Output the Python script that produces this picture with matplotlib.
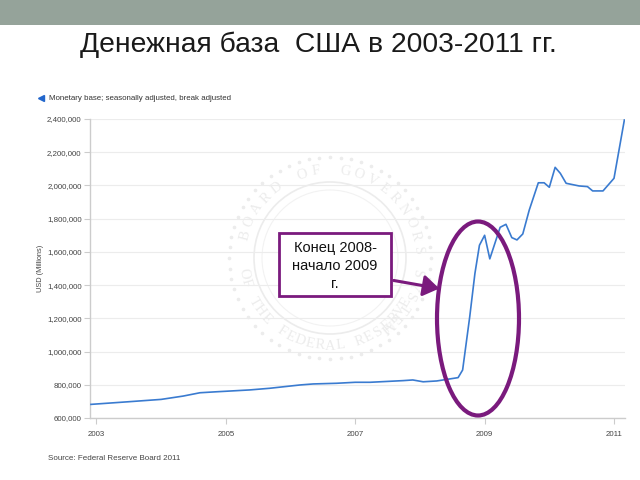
import numpy as np
import matplotlib
matplotlib.use("Agg")
import matplotlib.pyplot as plt
from matplotlib.patches import Ellipse, Rectangle, FancyArrowPatch, Circle
from matplotlib.ticker import FuncFormatter

plt.rcParams['font.family'] = ['Liberation Sans', 'DejaVu Sans']

# ---- data ----
years = [2002.915, 2003.5, 2004.0, 2004.34, 2004.6, 2004.86, 2005.0, 2005.37,
         2005.68, 2005.89, 2006.15, 2006.35, 2006.71, 2007.0, 2007.23, 2007.74,
         2007.89, 2008.05, 2008.26, 2008.59, 2008.66, 2008.77, 2008.85, 2008.92,
         2009.0, 2009.08, 2009.24, 2009.33, 2009.42, 2009.50, 2009.59, 2009.69,
         2009.83, 2009.92, 2010.0, 2010.09, 2010.17, 2010.26, 2010.46, 2010.59,
         2010.67, 2010.83, 2011.0, 2011.16]
base = [682000, 698000, 712000, 732000, 752000, 758000, 761000, 769000,
        779000, 788000, 799000, 805000, 809000, 815000, 815000, 825000,
        829000, 818000, 823000, 843000, 889000, 1210000, 1470000, 1640000,
        1700000, 1558000, 1748000, 1766000, 1686000, 1672000, 1708000, 1852000,
        2016000, 2016000, 1989000, 2109000, 2073000, 2013000, 1997000, 1993000,
        1967000, 1967000, 2043000, 2394000]
x_ticks = [2003, 2005, 2007, 2009, 2011]
y_ticks = [600000, 800000, 1000000, 1200000, 1400000, 1600000, 1800000,
           2000000, 2200000, 2400000]

title = "Денежная база  США в 2003-2011 гг."
legend_label = "Monetary base; seasonally adjusted, break adjusted"
y_label = "USD (Millions)"
source = "Source: Federal Reserve Board 2011"
note = "Конец 2008-\nначало 2009\nг."

W, H = 640, 480
fig = plt.figure(figsize=(6.4, 4.8), dpi=100)
fig.patch.set_facecolor('white')

# ---- background layer (pixel coords) ----
bg = fig.add_axes([0, 0, 1, 1])
bg.set_xlim(0, W); bg.set_ylim(H, 0); bg.axis('off')
bg.add_patch(Rectangle((0, 0), W, 25, color='#95a39a', lw=0))
bg.text(318, 45, title, ha='center', va='center', fontsize=20.3, color='#1a1a1a')

# watermark seal
cx, cy = 330, 258
seal_c = '#ececec'
bg.add_patch(Circle((cx, cy), 76, fill=False, ec=seal_c, lw=1.2))
bg.add_patch(Circle((cx, cy), 68, fill=False, ec='#f2f2f2', lw=0.8))
for a in np.linspace(0, 2 * np.pi, 60, endpoint=False):
    bg.plot(cx + 101 * np.cos(a), cy - 101 * np.sin(a), 'o', ms=1.6, color=seal_c)
def arc_text(txt, r, a0, a1, top=True):
    angs = np.linspace(a0, a1, len(txt))
    for ch, a in zip(txt, angs):
        t = np.deg2rad(a)
        rot = a - 90 if top else a + 90
        bg.text(cx + r * np.cos(t), cy - r * np.sin(t), ch, rotation=rot,
                ha='center', va='center', fontsize=10.5, color=seal_c,
                family='Liberation Serif')
arc_text("BOARD OF GOVERNORS", 88, 165, 5, top=True)
arc_text("OF THE FEDERAL RESERVE", 88, 190, 330, top=False)
arc_text("SYSTEM", 88, -10, -50, top=True)

# ---- chart ----
ax = fig.add_axes([90 / W, 1 - 418 / H, (625 - 90) / W, (418 - 119) / H])
ax.set_facecolor('none')
ax.plot(years, base, color='#3a7bd0', lw=1.2, zorder=3)
ax.set_xlim(2002.9, 2011.17)
ax.set_ylim(600000, 2400000)
ax.set_yticks(y_ticks)
ax.set_xticks(x_ticks)
ax.yaxis.set_major_formatter(FuncFormatter(lambda v, p: f"{int(v):,}"))
ax.grid(axis='y', color='#ececec', lw=0.8)
ax.set_axisbelow(True)
for s in ['top', 'right']:
    ax.spines[s].set_visible(False)
for s in ['left', 'bottom']:
    ax.spines[s].set_color('#cccccc')
    ax.spines[s].set_linewidth(1.0)
ax.tick_params(axis='both', colors='#cccccc', labelcolor='#444444', labelsize=5.7,
               length=4, width=0.8)
ax.tick_params(axis='x', pad=5)
ax.tick_params(axis='y', pad=2)

# texts around chart
bg.plot([41], [98], marker='<', ms=5, color='#2266cc', mec='#2266cc')
bg.text(49, 98, legend_label, ha='left', va='center', fontsize=5.7, color='#333333')
bg.text(40, 268, y_label, rotation=90, ha='center', va='center', fontsize=5.3, color='#444444')
bg.text(48, 458, source, ha='left', va='center', fontsize=5.8, color='#444444')

# ---- overlay annotations ----
ov = fig.add_axes([0, 0, 1, 1])
ov.set_facecolor('none')
ov.set_xlim(0, W); ov.set_ylim(H, 0); ov.axis('off')
purple = '#7a1a7d'
ov.add_patch(Ellipse((478, 318.5), 82, 194, fill=False, ec=purple, lw=3))
ov.add_patch(Rectangle((279, 233), 112, 63, fc='white', ec=purple, lw=2))
ov.text(335, 266, note, ha='center', va='center', fontsize=10.5, color='#111111',
        linespacing=1.4)
ov.add_patch(FancyArrowPatch((391, 280), (442, 289), arrowstyle='-|>,head_length=6,head_width=4',
                             color=purple, lw=2.2, mutation_scale=1.6))

fig.savefig('out.png', dpi=100)
